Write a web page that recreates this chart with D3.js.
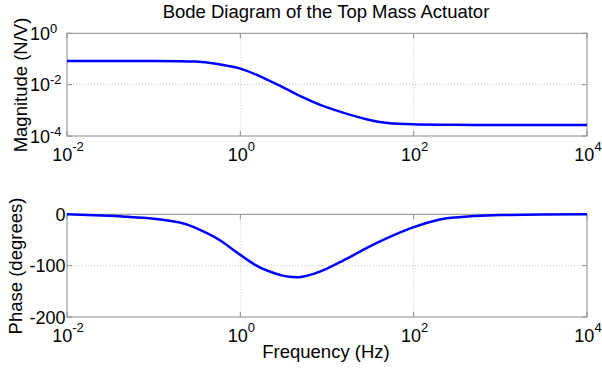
<!DOCTYPE html>
<html>
<head>
<meta charset="utf-8">
<script src="https://cdn.jsdelivr.net/npm/d3@7"></script>
<style>
  body { margin: 0; background: #fff; }
  text { font-family: Arial, "Liberation Sans", sans-serif; fill: #000; }
</style>
</head>
<body>
<svg id="chart" width="602" height="368"></svg>
<script>
// values
const freq = [0.01, 0.03, 0.05, 0.1, 0.2, 0.3, 0.5, 0.7, 1, 1.5, 2, 3, 4, 5, 7, 10, 15, 20, 30, 50, 100, 200, 300, 500, 1000, 3000, 10000];
const magnitude = [0.083, 0.083, 0.083, 0.083, 0.082, 0.079, 0.067, 0.055, 0.042, 0.025, 0.0162, 0.0083, 0.0051, 0.0035, 0.0021, 0.0013, 0.00083, 0.00062, 0.00043, 0.00032, 0.000285, 0.000275, 0.000272, 0.00027, 0.00027, 0.00027, 0.00027];
const phase = [0, -3, -5, -8.5, -16, -26, -44, -60, -79, -99, -109, -119, -122, -122, -116, -106, -91, -80, -64, -46, -25, -10, -6, -3.5, -1.5, -0.5, 0];

const freqTicks = [1e-2, 1e0, 1e2, 1e4];
const magTicks = [1e-4, 1e-2, 1e0];
const phaseTicks = [-200, -100, 0];

const svg = d3.select("#chart");
const left = 67, right = 587;

const x = d3.scaleLog().domain([1e-2, 1e4]).range([left, right]);
const yMag = d3.scaleLog().domain([1e-4, 1e0]).range([136, 33.3]);
const yPh = d3.scaleLinear().domain([-200, 0]).range([317, 214.3]);

function exp10(v) { return Math.round(Math.log10(v)); }

function panel(y, yTicks, yFmt, values, labelY) {
  const [y0, y1] = y.range();
  const g = svg.append("g");

  // grid
  g.selectAll(".gx").data(freqTicks.slice(1, -1)).enter().append("line")
      .attr("x1", d => x(d)).attr("x2", d => x(d))
      .attr("y1", y1).attr("y2", y0)
      .attr("stroke", "#c4c4c4").attr("stroke-dasharray", "1,2");
  g.selectAll(".gy").data(yTicks.slice(1, -1)).enter().append("line")
      .attr("x1", left).attr("x2", right)
      .attr("y1", d => y(d)).attr("y2", d => y(d))
      .attr("stroke", "#c4c4c4").attr("stroke-dasharray", "1,2");

  // frame
  g.append("rect")
      .attr("x", left).attr("y", y1)
      .attr("width", right - left).attr("height", y0 - y1)
      .attr("fill", "none").attr("stroke", "#8c8c8c").attr("stroke-width", 1);

  // ticks, inside on all four sides
  freqTicks.forEach(d => {
    g.append("line").attr("x1", x(d)).attr("x2", x(d)).attr("y1", y0).attr("y2", y0 - 5).attr("stroke", "#8c8c8c");
    g.append("line").attr("x1", x(d)).attr("x2", x(d)).attr("y1", y1).attr("y2", y1 + 5).attr("stroke", "#8c8c8c");
  });
  yTicks.forEach(d => {
    g.append("line").attr("x1", left).attr("x2", left + 5).attr("y1", y(d)).attr("y2", y(d)).attr("stroke", "#8c8c8c");
    g.append("line").attr("x1", right).attr("x2", right - 5).attr("y1", y(d)).attr("y2", y(d)).attr("stroke", "#8c8c8c");
  });

  const xl = g.selectAll(".lx").data(freqTicks).enter().append("text")
      .attr("x", d => x(d) + 1).attr("y", y0 + 25)
      .attr("text-anchor", "middle").attr("font-size", 18);
  xl.append("tspan").text("10");
  xl.append("tspan").attr("font-size", 13).attr("dy", -10).text(d => exp10(d));

  // y labels
  yFmt(g, y);

  // curve
  const line = d3.line()
      .x((d, i) => x(freq[i]))
      .y(d => y(d))
      .curve(d3.curveNatural);
  g.append("path").datum(values)
      .attr("d", line)
      .attr("fill", "none").attr("stroke", "#0000ff").attr("stroke-width", 2.5);

  svg.append("text")
      .attr("transform", `translate(${labelY.x},${labelY.y}) rotate(-90)`)
      .attr("text-anchor", "middle").attr("font-size", 18.5)
      .text(labelY.text);
}

panel(yMag, magTicks, (g, y) => {
  g.selectAll(".ly").data(magTicks).enter().append("text")
      .attr("x", 50).attr("y", d => y(d) + 6.5)
      .attr("text-anchor", "end").attr("font-size", 18)
      .text("10");
  g.selectAll(".le").data(magTicks).enter().append("text")
      .attr("x", 50).attr("y", d => y(d) - 0.5)
      .attr("font-size", 13)
      .text(d => exp10(d));
}, magnitude, { x: 27, y: 85, text: "Magnitude (N/V)" });

panel(yPh, phaseTicks, (g, y) => {
  g.selectAll(".ly").data(phaseTicks).enter().append("text")
      .attr("x", 65.5).attr("y", d => y(d) + 6.5)
      .attr("text-anchor", "end").attr("font-size", 18)
      .text(d => d);
}, phase, { x: 22, y: 266, text: "Phase (degrees)" });

svg.append("text")
    .attr("x", 326).attr("y", 18)
    .attr("text-anchor", "middle").attr("font-size", 18.5)
    .text("Bode Diagram of the Top Mass Actuator");

svg.append("text")
    .attr("x", 326).attr("y", 358)
    .attr("text-anchor", "middle").attr("font-size", 18.5)
    .text("Frequency (Hz)");
</script>
</body>
</html>
